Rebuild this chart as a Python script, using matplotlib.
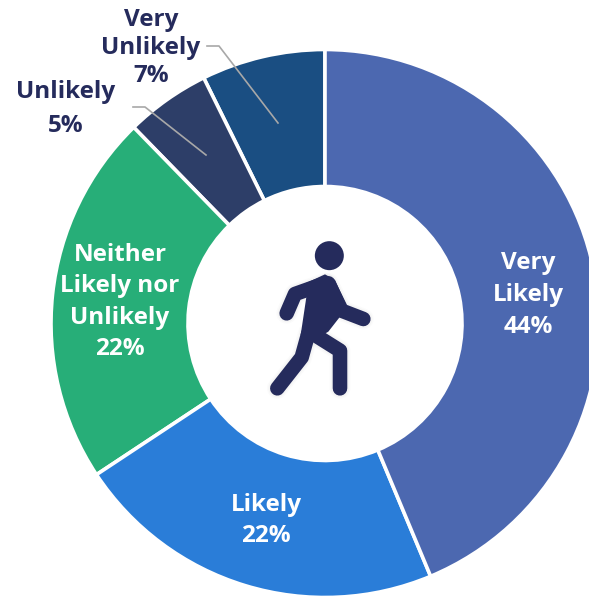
import matplotlib
matplotlib.use("Agg")
import matplotlib.pyplot as plt
from matplotlib.patches import Circle, Polygon

labels = ["Very\nLikely\n44%", "Likely\n22%", "Neither\nLikely nor\nUnlikely\n22%", "Unlikely\n5%", "Very\nUnlikely\n7%"]
values = [43.7, 22, 22, 5, 7.3]
colors = ["#4C68B0", "#2A7DD8", "#27AE78", "#2D3E68", "#1A4E82"]
dark = "#252B5C"
W, H = 589, 596

plt.rcParams['font.family'] = ['Open Sans', 'DejaVu Sans']

fig = plt.figure(figsize=(W / 100, H / 100), dpi=100)
ax = fig.add_axes([0, 0, 1, 1])

cx, cy, rad = 325, H - 323.5, 274
ax.pie(values[::-1], colors=colors[::-1], startangle=90, center=(cx, cy), radius=rad,
       wedgeprops=dict(width=rad - 137, edgecolor="white", linewidth=2.6))
ax.set_xlim(0, W)
ax.set_ylim(0, H)
ax.axis("off")


def P(x, y):
    # pixel position from the top left corner
    return x, H - y


# leader lines
for pts in ([(133, 107), (145, 107), (206, 155)], [(207, 46), (219, 46), (278, 123)]):
    xs, ys = zip(*[P(*p) for p in pts])
    ax.plot(xs, ys, color="#A8A8A8", lw=1.2, zorder=4)

# text
white_pos = [(528, 295), (266, 520.5), (120, 302)]
for lab, pos in zip(labels[:3], white_pos):
    ax.text(*P(*pos), lab, color="white", fontsize=17.5, fontweight="bold", ha="center", va="center", linespacing=1.42, zorder=5)
dark_pos = [(66, 109), (151, 48)]
dark_spacing = [1.5, 1.25]
for lab, pos, sp in zip(labels[3:], dark_pos, dark_spacing):
    ax.text(*P(*pos), lab, color=dark, fontsize=17.5, fontweight="bold", ha="center", va="center", linespacing=sp, zorder=5)


# walking figure, coordinates taken from the zoomed crop
def Z(x, y):
    return P(240 + x / 3, 220 + y / 3)


limbs = [
    [(255, 190), (165, 222), (140, 280)],
    [(265, 190), (305, 272), (370, 297)],
    [(205, 340), (185, 412), (112, 505)],
    [(225, 345), (300, 392), (300, 505)],
]
# soft shadow first
for w, a in ((15, 0.025), (13, 0.035)):
    for pts in limbs:
        xs, ys = zip(*[Z(*p) for p in pts])
        ax.plot(xs, ys, color="#555555", alpha=a, lw=w, solid_capstyle="round", solid_joinstyle="round", zorder=5)

for pts in limbs:
    xs, ys = zip(*[Z(*p) for p in pts])
    ax.plot(xs, ys, color=dark, lw=10.5, solid_capstyle="round", solid_joinstyle="round", zorder=6)
ax.add_patch(Polygon([Z(*p) for p in [(175, 200), (255, 163), (285, 180), (322, 262), (265, 335), (222, 360), (182, 345), (200, 225)]],
                     closed=True, color=dark, lw=0, zorder=6))
ax.add_patch(Circle(Z(268, 107), 14.5, color=dark, lw=0, zorder=6))

fig.savefig("out.png", dpi=100, facecolor="white")
